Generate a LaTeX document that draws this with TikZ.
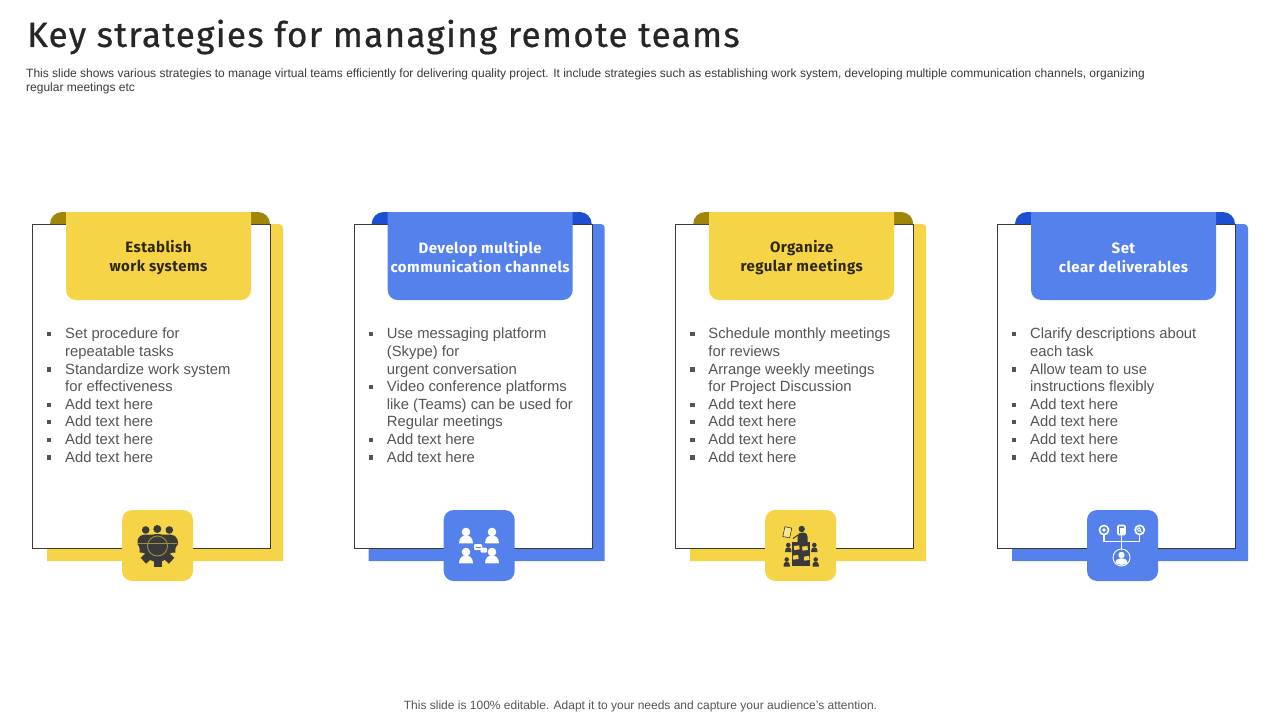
\documentclass[tikz,border=0pt]{standalone}
\usepackage{fontspec}
\setmainfont{Liberation Sans}
\newfontfamily\headfont[LetterSpace=3]{Fira Sans}
\newfontfamily\titlefont[LetterSpace=3.8,FakeBold=0.6]{Fira Sans}
\definecolor{yel}{HTML}{F5D547}
\definecolor{yeld}{HTML}{A08608}
\definecolor{blu}{HTML}{5481EC}
\definecolor{blud}{HTML}{1E4FD2}
\definecolor{ink}{HTML}{3A3A3A}
\definecolor{bodytxt}{HTML}{555555}
\definecolor{headdark}{HTML}{2E2810}
\tikzset{
  x=1pt,y=-1pt,
  cardbox/.style={draw=ink,line width=0.8pt,fill=white},
  headtxt/.style={font=\headfont\bfseries\fontsize{15}{19}\selectfont,align=center,inner sep=0pt},
  bodylist/.style={anchor=north west,inner sep=0pt,text=bodytxt,font=\fontsize{14.8}{17.6}\selectfont},
}
\newcommand{\itm}[1]{\par\noindent\hangindent=18pt\hangafter=1\makebox[18pt][l]{\raisebox{2.6pt}{\rule{4.2pt}{4.2pt}}}#1}
% #1 dx  #2 main colour  #3 dark colour  #4 head text colour  #5 head text  #6 list  #7 name
\newcommand{\card}[7]{%
\begin{scope}[xshift=#1pt]
  \fill[#2] (47,561) -- (47,224) -- (279,224) arc[start angle=90,end angle=0,radius=4pt] -- (283,561) -- cycle;
  \node[cardbox,minimum width=238pt,minimum height=323.6pt,inner sep=0pt,anchor=north west] (box#7) at (32,224) {};
  \fill[#3] (50,224) arc[start angle=180,end angle=90,radius=12pt] -- (258,212) arc[start angle=90,end angle=0,radius=12pt] -- cycle;
  \fill[#2,rounded corners=10pt] (66,190) -- (66,300) -- (251,300) -- (251,190) -- cycle;
  \fill[white] (60,185) rectangle (258,212);
  \node[headtxt,text=#4] (head#7) at (158.5,257.5) {#5};
  \node[bodylist] (list#7) at (47,328) {\begin{minipage}[t]{220pt}#6\end{minipage}};
  \node[fill=#2,rounded corners=10pt,minimum width=71pt,minimum height=71pt,inner sep=0pt] (icon#7) at (157.5,545.5) {};
\end{scope}}
\begin{document}
\begin{tikzpicture}
\useasboundingbox (0,0) rectangle (1280,720);
\fill[white] (0,0) rectangle (1280,720);
\node[anchor=west,inner sep=0pt,text=black!85,font=\titlefont\fontsize{35}{40}\selectfont] (title) at (27,37) {Key strategies for managing remote teams};
\node[anchor=north west,inner sep=0pt,text=ink,align=left,font=\fontsize{12}{14}\selectfont] (sub) at (26,69) {This slide shows various strategies to manage virtual teams efficiently for delivering quality project. It include strategies such as establishing work system, developing multiple communication channels, organizing\\regular meetings etc};
\card{0}{yel}{yeld}{headdark}{Establish\\work systems}{\itm{Set procedure for\\repeatable tasks}\itm{Standardize work system\\for effectiveness}\itm{Add text here}\itm{Add text here}\itm{Add text here}\itm{Add text here}}{a}
\card{321.7}{blu}{blud}{white}{Develop multiple\\communication channels}{\itm{Use messaging platform\\(Skype) for\\urgent conversation}\itm{Video conference platforms\\like (Teams) can be used for\\Regular meetings}\itm{Add text here}\itm{Add text here}}{b}
\card{643.2}{yel}{yeld}{headdark}{Organize\\regular meetings}{\itm{Schedule monthly meetings\\for reviews}\itm{Arrange weekly meetings\\for Project Discussion}\itm{Add text here}\itm{Add text here}\itm{Add text here}\itm{Add text here}}{c}
\card{965}{blu}{blud}{white}{Set\\clear deliverables}{\itm{Clarify descriptions about\\each task}\itm{Allow team to use\\instructions flexibly}\itm{Add text here}\itm{Add text here}\itm{Add text here}\itm{Add text here}}{d}
% icon a: team and gear
\begin{scope}
  \fill[ink] (145.7,530) circle (3.8) (157.3,529) circle (4) (169.3,530) circle (3.8);
  \fill[ink] (137.5,544) .. controls (137,535) and (142,534.5) .. (148,534.5) -- (167,534.5) .. controls (173,534.5) and (178,535) .. (178,544) -- (172,553) -- (143,553) -- cycle;
  \fill[ink] (157.5,548) circle (14);
  \foreach \a in {-48,0,48}{
    \fill[ink,rotate around={\a:(157.5,548)}] (153.5,558) rectangle (161.5,567);
  }
  \fill[ink,rotate around={-88:(157.5,548)}] (153.5,558) rectangle (161.5,566);
  \fill[ink,rotate around={88:(157.5,548)}] (153.5,558) rectangle (161.5,566);
  \draw[yel!55!ink,line width=0.9pt] (138,543) -- (177,543);
  \draw[yel!55!ink,line width=0.9pt] (157.5,546) circle (10);
\end{scope}
% icon b: four people and chat
\foreach \px/\py in {466/532,492/532,466/552,492/552}{
  \fill[white] (\px,\py) circle (4.3);
  \fill[white] (\px-7,\py+11.3) .. controls (\px-7,\py+5) and (\px-3,\py+3.5) .. (\px,\py+3.5) .. controls (\px+3,\py+3.5) and (\px+7,\py+5) .. (\px+7,\py+11.3) -- cycle;
}
\fill[white,rounded corners=1pt] (474,544) rectangle (482,550);
\fill[white,rounded corners=1pt] (480.5,547.5) rectangle (487,552.5);
\draw[blu,line width=0.4pt] (475.5,547) -- (480.5,547);
% icon c: presenter and audience
\fill[ink] (801.7,529) circle (3.2);
\fill[ink] (797.5,542) -- (797.5,536) .. controls (797.5,533.5) and (800,532.5) .. (802.5,532.5) .. controls (806,532.5) and (807.7,534) .. (807.7,537) -- (807.7,542) -- cycle;
\draw[ink,line width=1pt] (798,535) -- (793,538.5);
\draw[ink,line width=0.6pt,fill=yel!60!white,rotate around={-12:(787.3,532.3)}] (783.8,527.3) rectangle (790.8,537.3);
\fill[ink] (791.7,541.7) rectangle (810,565.5);
\foreach \nx/\ny in {796.7/547.7,805/548.3,795.7/557.3,806.7/558.3}{
  \fill[yel,rotate around={8:(\nx,\ny)}] (\nx-2.7,\ny-2) rectangle (\nx+2.7,\ny+2);
}
\foreach \px/\py in {788.3/545,814.3/545,786.7/559.5,815.7/559.5}{
  \fill[ink] (\px,\py) circle (2.3);
  \fill[ink] (\px-3.2,\py+7) .. controls (\px-3.2,\py+3) and (\px-1.5,\py+2.2) .. (\px,\py+2.2) .. controls (\px+1.5,\py+2.2) and (\px+3.2,\py+3) .. (\px+3.2,\py+7) -- cycle;
}
% icon d: person with three options
\draw[white,line width=1.2pt] (1104,535) -- (1104,541.7) -- (1139.7,541.7) -- (1139.7,535) (1121.5,535) -- (1121.5,549);
\draw[white,line width=1.6pt] (1104,530) circle (4.6);
\fill[white] (1104,530) circle (1.8);
\draw[white,line width=1.6pt,rounded corners=1pt] (1118,525.5) rectangle (1125,534.5);
\fill[white] (1119.5,528) rectangle (1123.5,533.5);
\draw[white,line width=1.6pt] (1139.7,530) circle (4.6);
\draw[white,line width=0.8pt] (1139,529.5) circle (1.8) (1140.3,531) -- (1142.5,533);
\draw[white,line width=0.9pt] (1121.5,557.5) circle (8.5);
\fill[white] (1121.5,555) circle (3.2);
\fill[white] (1115.5,562.8) .. controls (1116,559) and (1119,558.3) .. (1121.5,558.3) .. controls (1124,558.3) and (1127,559) .. (1127.5,562.8) .. controls (1125,565.5) and (1118,565.5) .. (1115.5,562.8) -- cycle;
\node[inner sep=0pt,text=bodytxt,font=\fontsize{12}{14}\selectfont] (foot) at (640.5,706.5) {This slide is 100\% editable. Adapt it to your needs and capture your audience’s attention.};
\end{tikzpicture}
\end{document}
